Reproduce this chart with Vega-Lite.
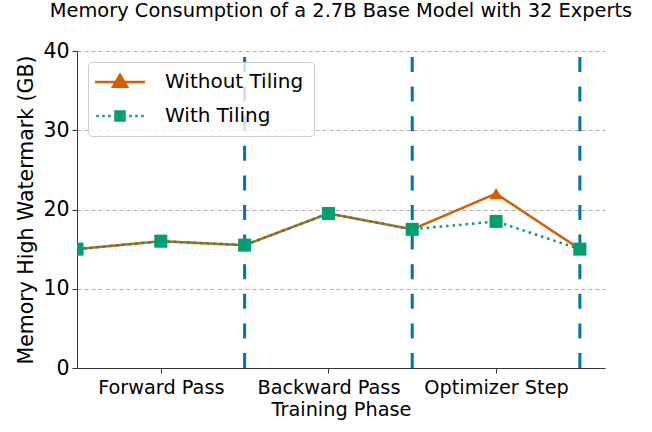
{
  "$schema": "https://vega.github.io/schema/vega-lite/v6.json",
  "width": 528,
  "height": 317,
  "autosize": {"type": "none"},
  "padding": {"left": 77, "top": 51, "right": 47, "bottom": 64},
  "background": "white",
  "title": {"text": "Memory Consumption of a 2.7B Base Model with 32 Experts", "font": "DejaVu Sans", "fontSize": 19.4, "fontWeight": "normal", "color": "black", "offset": 20, "anchor": "middle"},
  "config": {
    "view": {"stroke": null},
    "axis": {"labelFont": "DejaVu Sans", "titleFont": "DejaVu Sans", "labelColor": "black", "titleColor": "black", "domainColor": "#333", "tickColor": "#333", "titleFontWeight": "normal"}
  },
  "datasets": {
    "series": [
      {"step": 0, "gb": 15.0, "series": "Without Tiling"},
      {"step": 1, "gb": 16.0, "series": "Without Tiling"},
      {"step": 2, "gb": 15.5, "series": "Without Tiling"},
      {"step": 3, "gb": 19.5, "series": "Without Tiling"},
      {"step": 4, "gb": 17.5, "series": "Without Tiling"},
      {"step": 5, "gb": 22.0, "series": "Without Tiling"},
      {"step": 6, "gb": 15.0, "series": "Without Tiling"},
      {"step": 0, "gb": 15.0, "series": "With Tiling"},
      {"step": 1, "gb": 16.0, "series": "With Tiling"},
      {"step": 2, "gb": 15.5, "series": "With Tiling"},
      {"step": 3, "gb": 19.5, "series": "With Tiling"},
      {"step": 4, "gb": 17.5, "series": "With Tiling"},
      {"step": 5, "gb": 18.5, "series": "With Tiling"},
      {"step": 6, "gb": 15.0, "series": "With Tiling"}
    ],
    "bounds": [{"step": 2}, {"step": 4}, {"step": 6}]
  },
  "layer": [
    {
      "data": {"name": "bounds"},
      "mark": {"type": "rule", "color": "#0072B2", "strokeWidth": 3, "strokeDash": [15, 14.6]},
      "encoding": {
        "x": {"field": "step", "type": "quantitative", "scale": {"domain": [0, 6.3], "nice": false, "zero": false},
          "axis": {"values": [1, 3, 5], "labelExpr": "datum.value == 1 ? 'Forward Pass' : datum.value == 3 ? 'Backward Pass' : 'Optimizer Step'", "title": "Training Phase", "labelFontSize": 19.3, "titleFontSize": 19.3, "grid": false, "tickSize": 5, "labelPadding": 5, "titlePadding": 3}},
        "y": {"datum": 0, "type": "quantitative"},
        "y2": {"datum": 40}
      }
    },
    {
      "data": {"name": "series"},
      "mark": {"type": "line", "strokeWidth": 2.5, "clip": true},
      "encoding": {
        "x": {"field": "step", "type": "quantitative"},
        "y": {"field": "gb", "type": "quantitative", "scale": {"domain": [0, 40], "nice": false},
          "axis": {"values": [0, 10, 20, 30, 40], "title": "Memory High Watermark (GB)", "labelFontSize": 20.5, "titleFontSize": 20.5, "grid": true, "gridDash": [4, 3], "gridColor": "#b0b0b0", "gridWidth": 1, "tickSize": 5, "labelPadding": 3, "titlePadding": 6}},
        "color": {"field": "series", "type": "nominal", "scale": {"domain": ["Without Tiling", "With Tiling"], "range": ["#D55E00", "#009E73"]},
          "legend": {"title": null, "orient": "none", "legendX": 11, "legendY": 11, "direction": "vertical", "fillColor": "rgba(255,255,255,0.8)", "strokeColor": "#cccccc", "cornerRadius": 4, "padding": 10, "labelFont": "DejaVu Sans", "labelFontSize": 20, "labelColor": "black", "symbolSize": 1024, "symbolOffset": 12, "rowPadding": 14, "labelOffset": 35,
            "encode": {"symbols": {"update": {
              "shape": {"signal": "datum.value == 'Without Tiling' ? 'M-1.56,0 H1.56 M0,-0.45 L0.44,0.3 L-0.44,0.3 Z' : 'M-0.36,-0.36 H0.36 V0.36 H-0.36 Z M-1.484,-0.078 h0.156 v0.156 h-0.156 Z M-1.109,-0.078 h0.156 v0.156 h-0.156 Z M-0.734,-0.078 h0.156 v0.156 h-0.156 Z M0.578,-0.078 h0.156 v0.156 h-0.156 Z M0.953,-0.078 h0.156 v0.156 h-0.156 Z M1.328,-0.078 h0.156 v0.156 h-0.156 Z'"},
              "stroke": {"signal": "datum.value == 'Without Tiling' ? '#D55E00' : 'transparent'"},
              "fill": {"signal": "datum.value == 'Without Tiling' ? '#D55E00' : '#009E73'"},
              "strokeWidth": {"signal": "datum.value == 'Without Tiling' ? 2.5 : 0"},
              "strokeDash": {"value": [1, 0]},
              "opacity": {"value": 1}
            }}}}},
        "strokeDash": {"field": "series", "type": "nominal", "scale": {"domain": ["Without Tiling", "With Tiling"], "range": [[1, 0], [2.5, 4]]}, "legend": null},
        "order": {"field": "step"}
      }
    },
    {
      "data": {"name": "series"},
      "transform": [{"filter": "datum.series == 'Without Tiling'"}],
      "mark": {"type": "point", "filled": true, "opacity": 1, "clip": true, "shape": "triangle-up", "size": 170},
      "encoding": {
        "x": {"field": "step", "type": "quantitative"},
        "y": {"field": "gb", "type": "quantitative"},
        "color": {"field": "series", "type": "nominal"}
      }
    },
    {
      "data": {"name": "series"},
      "transform": [{"filter": "datum.series == 'With Tiling'"}],
      "mark": {"type": "point", "filled": true, "opacity": 1, "clip": true, "shape": "square", "size": 170},
      "encoding": {
        "x": {"field": "step", "type": "quantitative"},
        "y": {"field": "gb", "type": "quantitative"},
        "color": {"field": "series", "type": "nominal"}
      }
    }
  ]
}
